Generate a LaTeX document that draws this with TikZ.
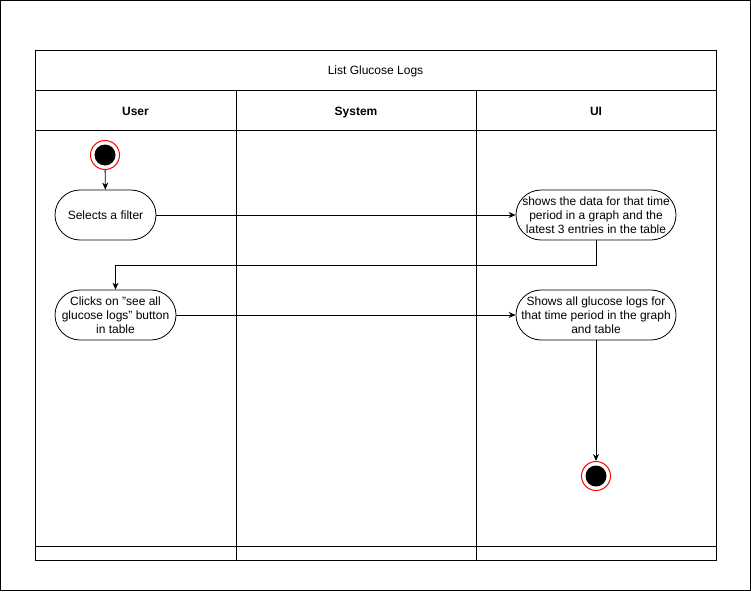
\documentclass[tikz,border=0pt]{standalone}
\usepackage{fontspec}
\setmainfont{Liberation Sans}
\usepackage{tikz}
\usetikzlibrary{arrows.meta,positioning,calc}
\tikzset{
  lane/.style={draw=black, line width=0.9pt},
  lanetitle/.style={font=\fontsize{12}{14}\selectfont, text height=9pt, text depth=3pt},
  action/.style={draw=black, line width=0.8pt, rounded corners=25pt, minimum height=50pt,
    align=center, inner sep=1pt, font=\fontsize{12}{14}\selectfont},
  flow/.style={-{Stealth[length=7pt,width=6pt]}, line width=0.8pt},
  startnode/.style={circle, draw=red, line width=1pt, fill=white, minimum size=29pt, inner sep=0pt,
    path picture={\fill[black] (path picture bounding box.center) circle (10.5pt);}},
}

\begin{document}
\begin{tikzpicture}[x=1pt,y=-1pt]
  \useasboundingbox (0,0) rectangle (751,591);
  \draw[line width=0.8pt] (0.5,0.5) rectangle (750.5,590.5);
  % swimlanes
  \draw[lane] (35,50) rectangle (716,560);
  \draw[lane] (35,90) -- (716,90);
  \draw[lane] (35,130) -- (716,130);
  \draw[lane] (35,546) -- (716,546);
  \draw[lane] (236,90) -- (236,560);
  \draw[lane] (476,90) -- (476,560);
  \node[lanetitle] (title) at (375.5,72) {List Glucose Logs};
  \node[lanetitle, font=\bfseries\fontsize{12}{14}\selectfont] (user) at (135.5,112) {User};
  \node[lanetitle, font=\bfseries\fontsize{12}{14}\selectfont] (system) at (356,112) {System};
  \node[lanetitle, font=\bfseries\fontsize{12}{14}\selectfont] (ui) at (596,112) {UI};
  % actions
  \node[startnode] (start) at (105,155) {};
  \node[action, minimum width=101pt] (filter) at (105.5,215) {Selects a filter};
  \node[action, minimum width=160pt] (shows) at (596,215) {shows the data for that time\\period in a graph and the\\latest 3 entries in the table};
  \node[action, minimum width=121pt] (clicks) at (115.5,315) {Clicks on \symbol{34}see all\\glucose logs\symbol{34} button\\in table};
  \node[action, minimum width=160pt] (showall) at (596,315) {Shows all glucose logs for\\that time period in the graph\\and table};
  \node[startnode] (stop) at (596,476) {};
  % connectors
  \draw[flow] (start) -- (filter);
  \draw[flow] (filter) -- (shows);
  \draw[flow] (shows.south) -- ++(0,25) -| (clicks.north);
  \draw[flow] (clicks) -- (showall);
  \draw[flow] (showall) -- (stop);
\end{tikzpicture}
\end{document}
